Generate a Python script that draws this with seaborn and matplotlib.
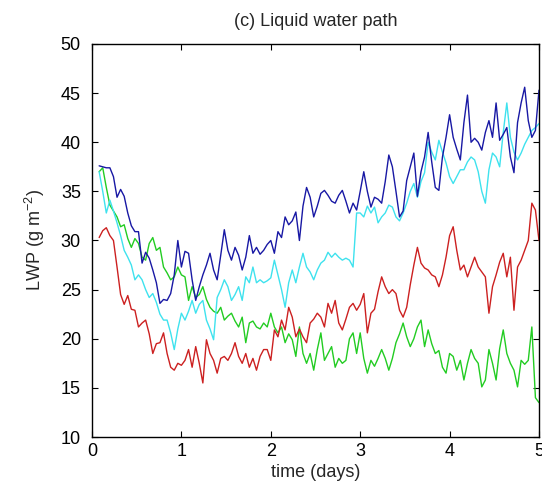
import numpy as np
import pandas as pd
import matplotlib
matplotlib.use("Agg")
import matplotlib.pyplot as plt
import seaborn as sns

# time axis (days), sampled every 0.04 day
time_days = np.round(np.arange(2, 126) * 0.04, 2)

lwp_blue = [
    37.6, 37.5, 37.4, 37.4, 36.5, 34.4, 35.2, 34.5, 32.8, 31.5,
    30.9, 30.9, 27.7, 28.8, 28.2, 27.0, 25.7, 23.6, 24.0, 23.9,
    24.6, 26.5, 30.0, 27.3, 28.9, 28.7, 26.0, 23.9, 25.3, 26.5,
    27.5, 28.7, 27.0, 26.0, 28.5, 31.1, 29.0, 28.0, 29.3, 28.5,
    27.0, 28.3, 30.5, 28.7, 29.3, 28.6, 29.0, 29.6, 30.0, 28.7,
    30.9, 30.3, 32.4, 31.6, 32.0, 32.9, 30.0, 33.5, 35.4, 34.4,
    32.4, 33.5, 34.8, 35.1, 34.6, 34.0, 33.8, 34.6, 35.1, 34.0,
    32.8, 33.8, 33.1, 35.0, 37.0, 35.0, 33.4, 34.4, 34.2, 33.8,
    36.0, 38.7, 37.5, 35.0, 32.4, 33.0, 36.1, 37.5, 38.9, 34.5,
    37.0, 38.5, 41.0, 38.0, 35.4, 35.1, 38.5, 40.5, 42.8, 40.5,
    39.3, 38.2, 42.0, 44.8, 40.0, 40.4, 40.0, 39.2, 41.0, 42.2,
    40.5, 44.0, 40.2, 40.8, 41.5, 38.5, 36.9, 42.0, 44.0, 45.6,
    42.2, 40.5, 41.2, 45.3,
]

lwp_cyan = [
    37.0, 35.0, 32.8, 34.1, 33.0, 31.8, 30.5, 29.0, 28.3, 27.5,
    26.0, 26.5, 26.0, 25.0, 24.2, 24.6, 23.7, 22.5, 21.9, 21.9,
    20.6, 18.9, 21.0, 22.6, 21.9, 22.8, 23.9, 22.6, 23.5, 23.9,
    21.9, 21.0, 19.9, 24.2, 25.0, 26.0, 25.3, 23.9, 24.5, 25.3,
    23.9, 26.3, 25.7, 27.3, 25.7, 26.0, 25.7, 25.9, 26.2, 28.0,
    26.5, 25.0, 23.2, 25.7, 27.0, 25.7, 27.3, 28.7, 27.3, 26.8,
    26.0, 27.0, 27.7, 28.0, 28.8, 28.3, 28.7, 28.3, 28.0, 28.2,
    28.0, 27.3, 32.8, 32.8, 32.4, 33.5, 32.8, 33.4, 31.8, 32.4,
    32.8, 33.6, 33.4, 32.4, 32.0, 32.8, 33.8, 35.0, 35.8, 34.4,
    36.0, 36.9, 40.0, 39.0, 38.2, 40.2, 39.0, 37.9, 36.5, 35.8,
    36.5, 37.2, 37.2, 38.0, 38.5, 38.2, 37.0, 35.0, 33.8, 37.2,
    38.9, 38.5, 37.5, 41.0, 44.0, 40.5, 39.0, 38.2, 38.9, 39.8,
    40.5, 41.2, 41.5, 41.9,
]

lwp_green = [
    37.0, 37.4, 35.4, 33.6, 33.0, 32.4, 31.4, 31.6, 30.2, 29.3,
    30.2, 29.7, 28.3, 28.0, 29.7, 30.3, 29.0, 29.3, 27.3, 26.7,
    26.0, 26.3, 27.3, 26.5, 26.3, 23.9, 25.3, 24.2, 24.5, 25.3,
    24.0, 23.2, 22.8, 22.6, 23.2, 21.9, 22.3, 22.6, 21.8, 21.2,
    22.2, 19.6, 21.6, 21.8, 21.2, 21.0, 21.6, 21.2, 22.6, 21.2,
    20.6, 21.2, 19.6, 20.5, 19.9, 18.2, 21.2, 18.5, 17.5, 18.5,
    16.8, 18.9, 20.6, 17.8, 18.5, 19.2, 17.1, 18.0, 17.5, 17.8,
    20.0, 20.6, 18.5, 20.6, 18.0, 16.5, 17.8, 17.2, 18.0, 18.9,
    18.0, 16.8, 18.0, 19.6, 20.5, 21.6, 20.2, 19.2, 20.0, 21.2,
    21.9, 19.2, 20.9, 19.5, 18.5, 18.8, 17.1, 16.5, 18.5, 18.2,
    16.8, 17.8, 15.8, 17.5, 18.9, 18.0, 17.5, 15.1, 15.8, 18.9,
    17.5, 15.8, 19.0, 20.9, 18.5, 17.5, 16.8, 15.1, 17.8, 17.4,
    17.8, 21.2, 14.0, 13.5,
]

lwp_red = [
    30.3, 31.0, 31.3, 30.5, 30.0, 27.3, 24.5, 23.5, 24.4, 23.0,
    22.9, 21.2, 21.6, 21.9, 20.5, 18.5, 19.5, 19.6, 20.6, 18.5,
    17.1, 16.8, 17.5, 17.3, 17.8, 18.9, 17.1, 19.2, 17.5, 15.5,
    19.9, 18.5, 17.8, 16.5, 18.0, 18.2, 17.8, 18.5, 19.6, 18.2,
    17.5, 18.5, 17.1, 18.0, 16.8, 18.2, 18.9, 18.9, 17.8, 20.9,
    20.2, 21.9, 20.9, 23.2, 22.2, 20.2, 21.0, 20.2, 19.6, 21.6,
    22.0, 22.6, 22.2, 21.2, 23.6, 22.6, 23.9, 21.6, 20.9, 22.0,
    23.2, 23.6, 22.9, 23.5, 24.6, 20.6, 22.6, 23.0, 24.8, 26.3,
    25.3, 24.6, 25.0, 24.6, 22.9, 22.2, 23.2, 25.5, 27.5, 29.3,
    27.7, 27.2, 27.0, 26.5, 26.3, 25.3, 26.5, 28.3, 30.5, 31.4,
    29.0, 27.0, 27.5, 26.3, 27.3, 28.3, 27.3, 26.8, 26.3, 22.6,
    25.3, 26.5, 27.8, 28.7, 26.3, 28.3, 22.9, 27.3, 28.0, 29.0,
    30.0, 33.8, 33.1, 30.0,
]

series = {
    "blue": lwp_blue,
    "cyan": lwp_cyan,
    "green": lwp_green,
    "red": lwp_red,
}
palette = {
    "blue": "#1818a4",
    "cyan": "#3ee2ee",
    "green": "#22cc22",
    "red": "#cc2020",
}

df = pd.concat(
    [pd.DataFrame({"time": time_days, "LWP": vals, "run": name})
     for name, vals in series.items()],
    ignore_index=True,
)

sns.set_style("ticks")
plt.rcParams["font.family"] = ["Liberation Sans", "DejaVu Sans"]
plt.rcParams["mathtext.fontset"] = "custom"
plt.rcParams["mathtext.rm"] = "Liberation Sans"
plt.rcParams["mathtext.it"] = "Liberation Sans"

W, H = 542, 493
fig = plt.figure(figsize=(W / 100, H / 100), dpi=100)
ax = fig.add_axes([92 / W, 1 - 437 / H, (539 - 92) / W, (437 - 44) / H])

sns.lineplot(
    data=df, x="time", y="LWP", hue="run", palette=palette,
    hue_order=["green", "cyan", "red", "blue"],
    estimator=None, legend=False, linewidth=1.0, ax=ax,
)

ax.set_xlim(0, 5)
ax.set_ylim(10, 50)
ax.set_xticks(range(0, 6))
ax.set_yticks(range(10, 51, 5))
ax.tick_params(axis="both", direction="in", length=4, width=0.8,
               labelsize=13, top=True, right=True, colors="black")
ax.tick_params(axis="y", pad=8)
ax.tick_params(axis="x", pad=4)
for s in ax.spines.values():
    s.set_visible(True)
    s.set_linewidth(1.0)
    s.set_color("black")

ax.set_title("(c) Liquid water path", fontsize=13, pad=13)
ax.set_xlabel("time (days)", fontsize=13, labelpad=3)
ax.set_ylabel("LWP (g m$^{-2}$)", fontsize=13, labelpad=10)

fig.savefig("out.png", dpi=100)
